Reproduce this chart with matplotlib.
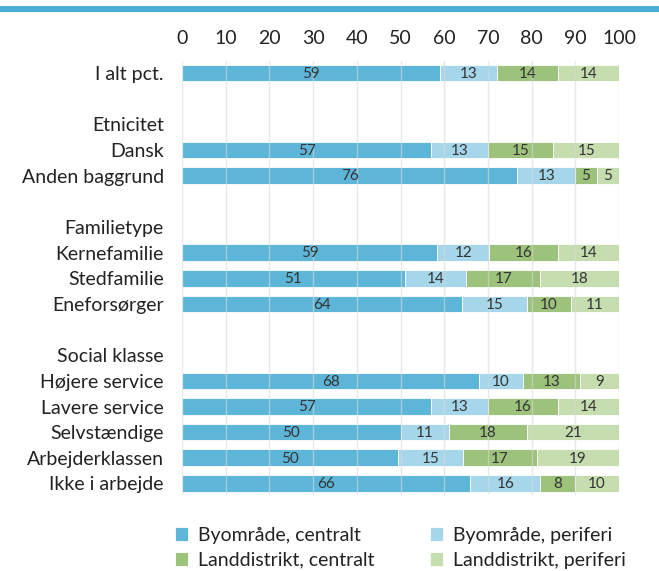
import matplotlib
matplotlib.use("Agg")
import matplotlib.pyplot as plt
import numpy as np

plt.rcParams['font.family'] = ['Lato', 'DejaVu Sans']

row_labels = ["I alt pct.", "", "Etnicitet", "Dansk", "Anden baggrund", "",
              "Familietype", "Kernefamilie", "Stedfamilie", "Eneforsørger", "",
              "Social klasse", "Højere service", "Lavere service", "Selvstændige",
              "Arbejderklassen", "Ikke i arbejde"]
bar_rows = ["I alt pct.", "Dansk", "Anden baggrund", "Kernefamilie", "Stedfamilie",
            "Eneforsørger", "Højere service", "Lavere service", "Selvstændige",
            "Arbejderklassen", "Ikke i arbejde"]
series_names = ["Byområde, centralt", "Byområde, periferi",
                "Landdistrikt, centralt", "Landdistrikt, periferi"]
by_central = [59, 57, 76, 59, 51, 64, 68, 57, 50, 50, 66]
by_periferi = [13, 13, 13, 12, 14, 15, 10, 13, 11, 15, 16]
land_central = [14, 15, 5, 16, 17, 10, 13, 16, 18, 17, 8]
land_periferi = [14, 15, 5, 14, 18, 11, 9, 14, 21, 19, 10]
ticks = [0, 10, 20, 30, 40, 50, 60, 70, 80, 90, 100]

colors = ["#5DB5D8", "#A5D6E9", "#9DC27C", "#C6DDB0"]

fig = plt.figure(figsize=(6.59, 5.71), dpi=100)
W, H = 659, 571
ax = fig.add_axes([182 / W, 1 - 495 / H, (619 - 182) / W, (495 - 61) / H])

# top band
fig.add_artist(plt.Rectangle((0, 1 - 12 / H), 1, 6 / H, transform=fig.transFigure,
                             color="#4AAED8", lw=0))

data = np.array([by_central, by_periferi, land_central, land_periferi], dtype=float)
totals = data.sum(axis=0)
norm = data / totals * 100
ypos = [row_labels.index(r) for r in bar_rows]

handles = []
left = np.zeros(len(bar_rows))
for i in range(4):
    b = ax.barh(ypos, norm[i], left=left, height=0.65, color=colors[i],
                edgecolor="white", linewidth=0.6, label=series_names[i], zorder=2)
    handles.append(b)
    for j, y in enumerate(ypos):
        ax.text(left[j] + norm[i][j] / 2, y + 0.03, f"{int(data[i][j])}",
                ha="center", va="center", fontsize=11, color="#333333", zorder=4)
    left += norm[i]

ax.set_xlim(0, 100)
ax.set_ylim(16.45, -0.47)
ax.set_xticks(ticks)
ax.set_xticklabels([str(t) for t in ticks], fontsize=14, color="#222222")
ax.xaxis.tick_top()
ax.tick_params(axis="x", length=0, pad=10)
ax.set_yticks(range(len(row_labels)))
ax.set_yticklabels(row_labels, fontsize=14, color="#222222")
ax.tick_params(axis="y", length=0, pad=13)
for s in ax.spines.values():
    s.set_visible(False)
ax.grid(axis="x", color="#D9D9D9", linewidth=1.0, zorder=3, alpha=0.6)
ax.set_axisbelow(False)

order = [0, 2, 1, 3]
leg = fig.legend([handles[k] for k in order], [series_names[k] for k in order],
                 loc="upper left", bbox_to_anchor=(157 / W, 1 - 509 / H), ncol=2,
                 frameon=False, fontsize=14, handlelength=0.7, handleheight=0.7,
                 handletextpad=0.5, columnspacing=2.85, labelspacing=0.42)
for t in leg.get_texts():
    t.set_color("#222222")

fig.savefig("out.png", dpi=100)
